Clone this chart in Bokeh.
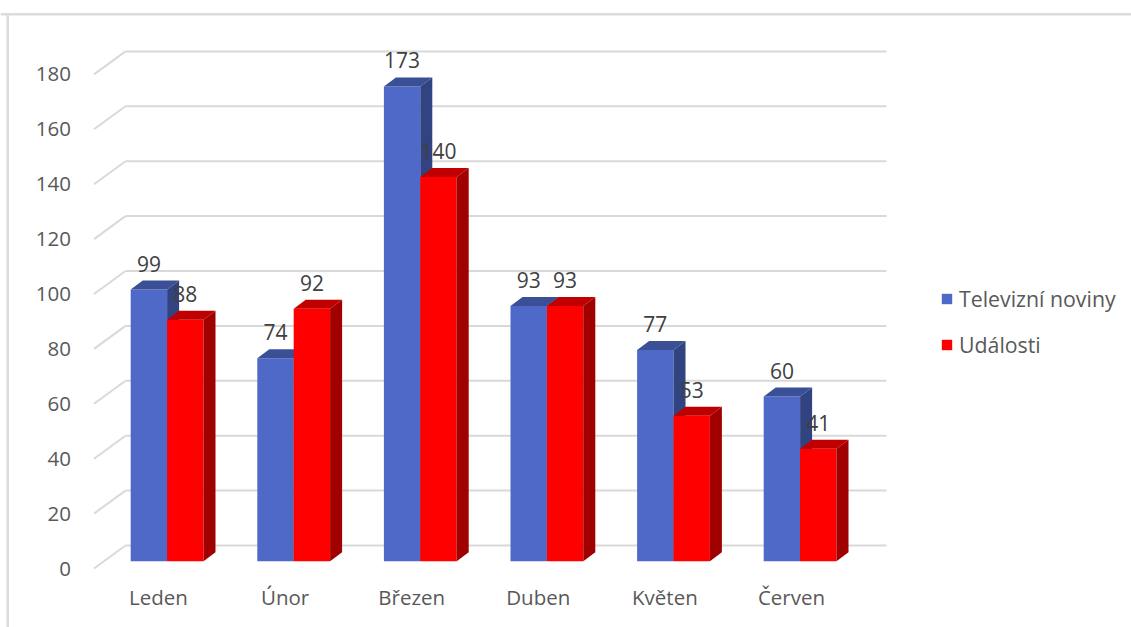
from bokeh.plotting import figure
from bokeh.models import ColumnDataSource, FixedTicker, BoxAnnotation, Legend, LegendItem, Range1d
from bokeh.core.properties import value
from bokeh.embed import file_html
from bokeh.resources import INLINE

categories = ["Leden", "Únor", "Březen", "Duben", "Květen", "Červen"]
televizni = [99, 74, 173, 93, 77, 60]
udalosti = [88, 92, 140, 93, 53, 41]
y_ticks = [0, 20, 40, 60, 80, 100, 120, 140, 160, 180]
series_names = ["Televizní noviny", "Události"]

W, H = 1131, 627
FONT = "Open Sans"
SIZE = "20.5px"
LABEL_SIZE = "21px"
LEGEND_SIZE = "21.3px"
AXIS_COLOR = "#595959"
LABEL_COLOR = "#404040"
GRID_COLOR = "#d9d9d9"

# scale: pixels per category / per value unit, and where the origin falls
PX_CAT = 126.6
PX_VAL = 2.745
X0_PX = 158.0   # centre of the first category on the front plane
Y0_PX = 568.0   # value 0 on the front plane


def dx(px):
    return px / PX_CAT


def dy(px):
    return px / PX_VAL


p = figure(width=W, height=H, output_backend="svg", toolbar_location=None,
           x_range=Range1d(dx(0 - X0_PX), dx(W - X0_PX)),
           y_range=Range1d(dy(Y0_PX - H), dy(Y0_PX)),
           min_border=0, outline_line_color=None, background_fill_color="white",
           border_fill_color="white", margin=(0, 0, 0, 0))
p.grid.visible = False

# axes, on the front plane
for ax in (p.xaxis[0], p.yaxis[0]):
    ax.axis_line_color = None
    ax.major_tick_line_color = None
    ax.minor_tick_line_color = None
    ax.major_label_text_font = FONT
    ax.major_label_text_font_size = SIZE
    ax.major_label_text_color = AXIS_COLOR

p.yaxis[0].ticker = FixedTicker(ticks=y_ticks)
p.yaxis[0].fixed_location = dx(93.5 - X0_PX)
p.yaxis[0].major_label_standoff = 17
p.xaxis[0].ticker = FixedTicker(ticks=list(range(len(categories))))
p.xaxis[0].major_label_overrides = {i: c for i, c in enumerate(categories)}
p.xaxis[0].fixed_location = 0
p.xaxis[0].major_label_standoff = 8

# chart frame: top and left rules reach the edges of the picture
for box in (dict(left=0, right=W, top=H - 12.5, bottom=H - 15), dict(left=6, right=8.5, top=H - 13, bottom=0)):
    p.add_layout(BoxAnnotation(left_units="screen", right_units="screen", top_units="screen",
                               bottom_units="screen", fill_color="#dcdcdc", fill_alpha=1,
                               line_color=None, level="underlay", **box))

# wall: diagonal tick, then the horizontal gridline behind the bars
WALL_X = dx(93.5 - X0_PX)
WALL_DX, WALL_DY = dx(31.5), dy(23)
WALL_END = dx(886 - X0_PX)
p.segment(x0=[WALL_X] * len(y_ticks), y0=y_ticks, x1=[WALL_X + WALL_DX] * len(y_ticks),
          y1=[t + WALL_DY for t in y_ticks], line_color=GRID_COLOR, line_width=2)
p.segment(x0=[WALL_X + WALL_DX] * len(y_ticks), y0=[t + WALL_DY for t in y_ticks],
          x1=[WALL_END] * len(y_ticks), y1=[t + WALL_DY for t in y_ticks],
          line_color=GRID_COLOR, line_width=2)

# bars
BAR_W = dx(36.4)
BAR_DX, BAR_DY = dx(12), dy(9)
BASE = dy(7.2)          # bars stand this far up the floor
GROUP_SHIFT = dx(8.6)   # bar group centre against the category label
colours = [("#4f69c8", "#3b4f96", "#324381"), ("#ff0000", "#c00000", "#a00000")]
fronts = []
label_x, label_y, label_t = [], [], []

for s, (vals, (front, top, side)) in enumerate(zip([televizni, udalosti], colours)):
    xc = [i + GROUP_SHIFT + (s - 0.5) * BAR_W for i in range(len(vals))]
    l = [x - BAR_W / 2 for x in xc]
    r = [x + BAR_W / 2 for x in xc]
    t = [v + BASE for v in vals]
    src = ColumnDataSource(dict(x=xc, top=t))
    fronts.append(p.vbar(x="x", top="top", bottom=BASE, width=BAR_W, source=src,
                         fill_color=front, line_color=None))
    p.patches(xs=[[a, a + BAR_DX, b + BAR_DX, b] for a, b in zip(l, r)],
              ys=[[y, y + BAR_DY, y + BAR_DY, y] for y in t],
              fill_color=top, line_color=None)
    p.patches(xs=[[b, b + BAR_DX, b + BAR_DX, b] for b in r],
              ys=[[BASE, BASE + BAR_DY, y + BAR_DY, y] for y in t],
              fill_color=side, line_color=None)
    label_x += xc
    label_y += t
    label_t += [str(v) for v in vals]

p.text(x=label_x, y=label_y, text=label_t, text_font=value(FONT), text_font_size=value(LABEL_SIZE),
       text_color=LABEL_COLOR, text_align="center", text_baseline="middle", y_offset=-26)

legend = Legend(items=[LegendItem(label=n, renderers=[r]) for n, r in zip(series_names, fronts)],
                location=(943 - 3, H - 359), orientation="vertical", border_line_color=None,
                background_fill_alpha=0, glyph_width=13, glyph_height=13, spacing=17,
                label_standoff=6, padding=3, margin=0, label_text_font=FONT,
                label_text_font_size=LEGEND_SIZE, label_text_color=AXIS_COLOR)
p.add_layout(legend, "center")

open("out.html", "w").write(file_html(p, INLINE))
